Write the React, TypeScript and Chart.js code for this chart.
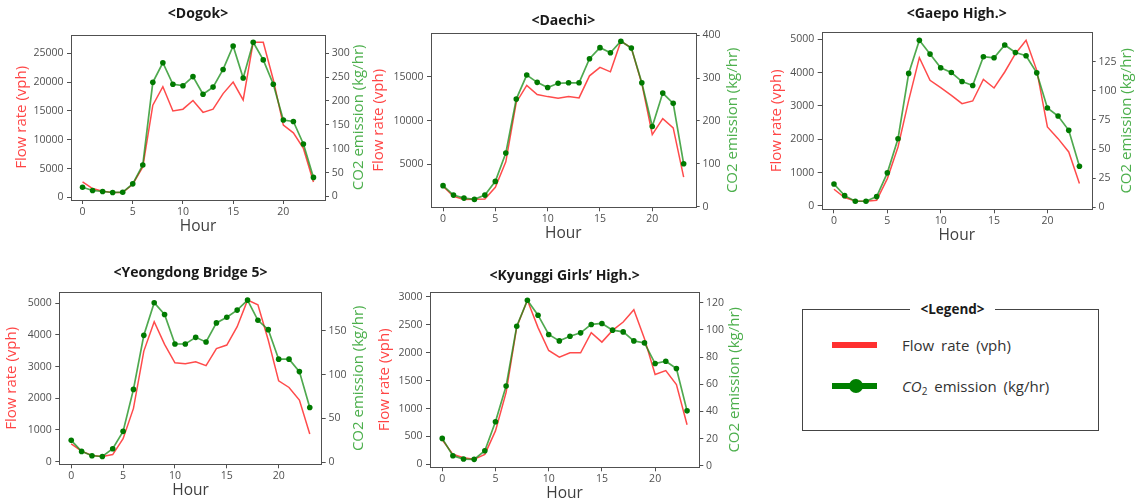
import React, { useEffect, useRef } from "react";
import { Chart, registerables } from "chart.js";
Chart.register(...registerables);

const FONT = '"Open Sans", "Noto Sans", sans-serif';

// ---------- data ----------
const hours = [0, 1, 2, 3, 4, 5, 6, 7, 8, 9, 10, 11, 12, 13, 14, 15, 16, 17, 18, 19, 20, 21, 22, 23];
const hourTicks = [0, 5, 10, 15, 20];

const dogokFlow = [2720, 1560, 1100, 870, 870, 2300, 5300, 16000, 19200, 15000, 15300, 16800, 14750, 15300, 18000, 20000, 16900, 26900, 26900, 20400, 12550, 11200, 8500, 2700];
const dogokCO2 = [19.5, 12.6, 10.5, 8.4, 9, 26.5, 66, 239, 280, 235, 232, 251, 214, 229, 266, 315, 248, 323, 286, 235, 160, 157, 110, 40];
const dogokFlowTicks = [0, 5000, 10000, 15000, 20000, 25000];
const dogokCO2Ticks = [0, 50, 100, 150, 200, 250, 300];

const daechiFlow = [2470, 1300, 960, 980, 1000, 2350, 5270, 12070, 14030, 12980, 12740, 12550, 12740, 12590, 15120, 16090, 15580, 19090, 18310, 14220, 8390, 10210, 9160, 3520];
const daechiCO2 = [49, 27, 20, 17, 27, 59, 125, 251, 307, 290, 278, 288, 289, 289, 345, 371, 359, 386, 370, 289, 187, 265, 241, 100];
const daechiFlowTicks = [5000, 10000, 15000];
const daechiCO2Ticks = [0, 100, 200, 300, 400];

const gaepoFlow = [500, 250, 150, 140, 170, 820, 1770, 3170, 4450, 3770, 3550, 3320, 3070, 3150, 3800, 3540, 4020, 4570, 4970, 4070, 2370, 2020, 1620, 670];
const gaepoCO2 = [20, 10, 5.2, 5.2, 9.2, 29.6, 58.9, 115, 143.4, 131.6, 119.8, 115.8, 108, 104.6, 129.3, 128.4, 139.4, 133, 130.2, 115.5, 85.3, 78.4, 66.1, 35.3];
const gaepoFlowTicks = [0, 1000, 2000, 3000, 4000, 5000];
const gaepoCO2Ticks = [0, 25, 50, 75, 100, 125];

const yeongFlow = [560, 330, 190, 160, 220, 720, 1680, 3490, 4420, 3700, 3120, 3090, 3150, 3030, 3570, 3680, 4260, 5100, 4950, 3830, 2550, 2340, 1940, 870];
const yeongCO2 = [24.9, 12.3, 7.3, 6.5, 15.3, 35.2, 83.1, 144.8, 182, 168.6, 134.9, 134.9, 142.5, 137.2, 159, 165.5, 173.6, 185, 162, 151.3, 117.6, 117.6, 103.4, 62.5];
const yeongFlowTicks = [0, 1000, 2000, 3000, 4000, 5000];
const yeongCO2Ticks = [0, 50, 100, 150];

const kyungFlow = [440, 180, 120, 90, 180, 600, 1290, 2460, 2940, 2450, 2040, 1920, 2000, 2000, 2360, 2190, 2400, 2550, 2770, 2250, 1610, 1680, 1430, 710];
const kyungCO2 = [20.1, 7.4, 4.9, 4.7, 11, 32.4, 58.6, 102.7, 121.8, 110.8, 96.6, 91.9, 95.3, 97.8, 104, 104.7, 99.8, 98.5, 91.9, 90.4, 75.2, 76.9, 71.6, 40.4];
const kyungFlowTicks = [0, 500, 1000, 1500, 2000, 2500, 3000];
const kyungCO2Ticks = [0, 20, 40, 60, 80, 100, 120];

const flowLabel = "Flow rate (vph)";
const co2Label = "CO2 emission (kg/hr)";
const hourLabel = "Hour";

// ---------- layout ----------
type Spec = {
  title: string;
  flow: number[];
  co2: number[];
  flowTicks: number[];
  co2Ticks: number[];
  box: { x: number; y: number; w: number; h: number };
  plot: { l: number; t: number; r: number; b: number };
  titleY: number;
  leftTitleX: number;
  rightTitleX: number;
};

const specs: Spec[] = [
  {
    title: "<Dogok>", flow: dogokFlow, co2: dogokCO2, flowTicks: dogokFlowTicks, co2Ticks: dogokCO2Ticks,
    box: { x: 0, y: 0, w: 378, h: 240 }, plot: { l: 71, t: 34.7, r: 325, b: 200 },
    titleY: 14, leftTitleX: 21.7, rightTitleX: 358.3,
  },
  {
    title: "<Daechi>", flow: daechiFlow, co2: daechiCO2, flowTicks: daechiFlowTicks, co2Ticks: daechiCO2Ticks,
    box: { x: 368, y: 0, w: 378, h: 248 }, plot: { l: 431, t: 33.3, r: 695.7, b: 207.3 },
    titleY: 20.7, leftTitleX: 379, rightTitleX: 733,
  },
  {
    title: "<Gaepo High.>", flow: gaepoFlow, co2: gaepoCO2, flowTicks: gaepoFlowTicks, co2Ticks: gaepoCO2Ticks,
    box: { x: 762, y: 0, w: 382, h: 250 }, plot: { l: 821.7, t: 32.3, r: 1091.7, b: 209.3 },
    titleY: 14, leftTitleX: 776.7, rightTitleX: 1126.7,
  },
  {
    title: "<Yeongdong Bridge 5>", flow: yeongFlow, co2: yeongCO2, flowTicks: yeongFlowTicks, co2Ticks: yeongCO2Ticks,
    box: { x: 0, y: 255, w: 372, h: 247 }, plot: { l: 59.3, t: 292.3, r: 321.7, b: 464.3 },
    titleY: 273.3, leftTitleX: 11.7, rightTitleX: 358.3,
  },
  {
    title: "<Kyunggi Girls’ High.>", flow: kyungFlow, co2: kyungCO2, flowTicks: kyungFlowTicks, co2Ticks: kyungCO2Ticks,
    box: { x: 372, y: 255, w: 380, h: 247 }, plot: { l: 430, t: 292.3, r: 699.3, b: 467.3 },
    titleY: 275.7, leftTitleX: 385, rightTitleX: 735,
  },
];

const TITLE_SIZE = 14;
const TICK_SIZE = 10.5;
const AXIS_SIZE = 15;
const HOUR_SIZE = 15.5;
const TICK_LEN = 4;

const RED = "rgba(255,30,30,0.8)";
const GREEN_LINE = "rgba(20,140,20,0.75)";
const GREEN_PT = "#007a00";
const RED_TEXT = "#ff4545";
const GREEN_TEXT = "#4caf4c";
const AXIS_COLOR = "#505050";

function autoRange(vals: number[]) {
  const lo = Math.min(...vals);
  const hi = Math.max(...vals);
  const m = (hi - lo) * 0.05;
  return { min: lo - m, max: hi + m };
}

function buildConfig(s: Spec): any {
  const { x: cx, y: cy, w: cw, h: ch } = s.box;
  const { l, t, r, b } = s.plot;
  const fr = autoRange(s.flow);
  const cr = autoRange(s.co2);
  const hr = autoRange(hours);
  const titleLH = TITLE_SIZE * 1.2;
  const titlePadTop = s.titleY - cy - titleLH / 2;
  const titlePadBottom = t - cy - titlePadTop - titleLH;
  const xH = cy + ch - b;
  const hourY = b + 26.5;
  const hourPadBottom = cy + ch - hourY - (HOUR_SIZE * 1.2) / 2;
  const xTickPad = 11.7 - TICK_LEN - (TICK_SIZE * 1.2) / 2;
  const leftW = l - cx;
  const rightW = cx + cw - r;
  const leftTitlePad = s.leftTitleX - cx - (AXIS_SIZE * 1.2) / 2;
  const grid = {
    display: true,
    drawOnChartArea: false,
    drawTicks: true,
    tickLength: TICK_LEN,
    tickWidth: 1,
    tickColor: AXIS_COLOR,
  };
  const tickFont = { family: FONT, size: TICK_SIZE };
  const fmt = (v: any) => String(v);

  const framePlugin = {
    id: "frameAndRightTitle",
    afterDatasetsDraw(chart: any) {
      const { ctx, chartArea } = chart;
      const { left, top, right, bottom } = chartArea;
      ctx.save();
      ctx.strokeStyle = AXIS_COLOR;
      ctx.lineWidth = 1;
      ctx.strokeRect(Math.round(left) + 0.5, Math.round(top) + 0.5, Math.round(right - left), Math.round(bottom - top));
      ctx.restore();
    },
    afterDraw(chart: any) {
      const { ctx, chartArea } = chart;
      const { top, bottom } = chartArea;
      ctx.save();
      ctx.translate(s.rightTitleX - cx, (top + bottom) / 2);
      ctx.rotate(-Math.PI / 2);
      ctx.fillStyle = GREEN_TEXT;
      ctx.font = `${AXIS_SIZE}px ${FONT}`;
      ctx.textAlign = "center";
      ctx.textBaseline = "middle";
      ctx.fillText(co2Label, 0, 0);
      ctx.restore();
    },
  };

  return {
    type: "line",
    data: {
      datasets: [
        {
          label: co2Label,
          data: hours.map((h, i) => ({ x: h, y: s.co2[i] })),
          yAxisID: "y1",
          borderColor: GREEN_LINE,
          borderWidth: 1.7,
          pointRadius: 2.8,
          pointBackgroundColor: GREEN_PT,
          pointBorderColor: GREEN_PT,
          pointBorderWidth: 0,
          tension: 0,
          fill: false,
        },
        {
          label: flowLabel,
          data: hours.map((h, i) => ({ x: h, y: s.flow[i] })),
          yAxisID: "y",
          borderColor: RED,
          borderWidth: 1.5,
          pointRadius: 0,
          tension: 0,
          fill: false,
        },
      ],
    },
    options: {
      responsive: false,
      animation: false,
      devicePixelRatio: 1,
      layout: { padding: 0 },
      events: [],
      plugins: {
        legend: { display: false },
        tooltip: { enabled: false },
        title: {
          display: true,
          text: s.title,
          fullSize: false,
          color: "#1a1a1a",
          font: { family: FONT, size: TITLE_SIZE, weight: "bold", lineHeight: 1.2 },
          padding: { top: titlePadTop, bottom: titlePadBottom },
        },
      },
      scales: {
        x: {
          type: "linear",
          position: "bottom",
          min: hr.min,
          max: hr.max,
          bounds: "data",
          grid,
          border: { display: false },
          ticks: { font: tickFont, color: AXIS_COLOR, padding: xTickPad, autoSkip: false, maxRotation: 0, callback: fmt },
          afterBuildTicks: (sc: any) => { sc.ticks = hourTicks.map((v) => ({ value: v })); },
          afterFit: (sc: any) => { sc.height = xH; },
          title: {
            display: true,
            text: hourLabel,
            color: "#404040",
            font: { family: FONT, size: HOUR_SIZE, lineHeight: 1.2 },
            padding: { top: 0, bottom: hourPadBottom },
          },
        },
        y: {
          type: "linear",
          position: "left",
          min: fr.min,
          max: fr.max,
          bounds: "data",
          grid,
          border: { display: false },
          ticks: { font: tickFont, color: AXIS_COLOR, padding: 3.5, autoSkip: false, callback: fmt },
          afterBuildTicks: (sc: any) => { sc.ticks = s.flowTicks.map((v) => ({ value: v })); },
          afterFit: (sc: any) => { sc.width = leftW; },
          title: {
            display: true,
            text: flowLabel,
            color: RED_TEXT,
            font: { family: FONT, size: AXIS_SIZE, lineHeight: 1.2 },
            padding: { top: leftTitlePad, bottom: 0 },
          },
        },
        y1: {
          type: "linear",
          position: "right",
          min: cr.min,
          max: cr.max,
          bounds: "data",
          grid,
          border: { display: false },
          ticks: { font: tickFont, color: AXIS_COLOR, padding: 2.7, autoSkip: false, callback: fmt },
          afterBuildTicks: (sc: any) => { sc.ticks = s.co2Ticks.map((v) => ({ value: v })); },
          afterFit: (sc: any) => { sc.width = rightW; },
        },
      },
    },
    plugins: [framePlugin],
  };
}

function ChartPanel({ spec }: { spec: Spec }) {
  const ref = useRef<HTMLCanvasElement | null>(null);
  useEffect(() => {
    if (!ref.current) return;
    const chart = new Chart(ref.current, buildConfig(spec));
    return () => chart.destroy();
  }, [spec]);
  const { x, y, w, h } = spec.box;
  return (
    <canvas
      ref={ref}
      width={w}
      height={h}
      style={{ position: "absolute", left: x, top: y, width: w, height: h }}
    />
  );
}

function LegendBox() {
  const textStyle: React.CSSProperties = {
    position: "absolute",
    left: 902,
    fontFamily: FONT,
    fontSize: 15,
    color: "#333",
    lineHeight: "20px",
    whiteSpace: "nowrap",
    wordSpacing: 3,
  };
  return (
    <>
      <div
        style={{
          position: "absolute",
          left: 802,
          top: 309,
          width: 297,
          height: 122,
          border: "1.5px solid #444",
          boxSizing: "border-box",
        }}
      />
      <div
        style={{
          position: "absolute",
          left: 910,
          top: 299,
          width: 85,
          height: 20,
          background: "#fff",
          textAlign: "center",
          fontFamily: FONT,
          fontWeight: "bold",
          fontSize: 13.5,
          lineHeight: "20px",
          color: "#1a1a1a",
        }}
      >
        {"<Legend>"}
      </div>
      <div style={{ position: "absolute", left: 832, top: 342, width: 45, height: 6, background: "#ff3030" }} />
      <div style={{ ...textStyle, top: 335 }}>{"Flow rate (vph)"}</div>
      <div style={{ position: "absolute", left: 832, top: 383, width: 45, height: 6, background: "#007f00" }} />
      <div
        style={{
          position: "absolute",
          left: 849,
          top: 379,
          width: 14,
          height: 14,
          borderRadius: "50%",
          background: "#007f00",
        }}
      />
      <div style={{ ...textStyle, top: 376 }}>
        <i>CO</i>
        <sub style={{ fontSize: 10, verticalAlign: "-3px" }}>2</sub>
        {" emission (kg/hr)"}
      </div>
    </>
  );
}

export default function App() {
  return (
    <div
      style={{
        position: "fixed",
        left: 0,
        top: 0,
        width: 1144,
        height: 502,
        background: "#fff",
        overflow: "hidden",
      }}
    >
      {specs.map((s) => (
        <ChartPanel key={s.title} spec={s} />
      ))}
      <LegendBox />
    </div>
  );
}
